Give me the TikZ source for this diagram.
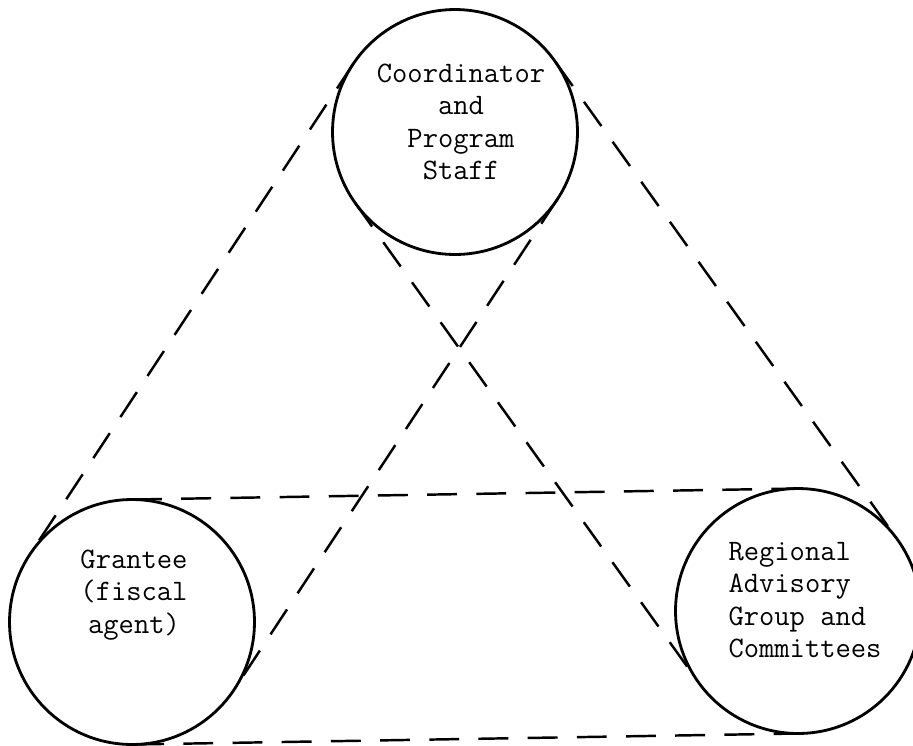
\documentclass[tikz,border=0pt]{standalone}
\usepackage{fontspec}
\usetikzlibrary{positioning,calc}
\newcommand{\typed}{\ttfamily\fontsize{16.9}{18.5}\selectfont}
\tikzset{
	party/.style={circle, draw, line width=1.6pt, minimum size=4.9cm, inner sep=0pt, outer sep=0pt},
	caption/.style={font=\typed, inner sep=0pt},
	tie/.style={line width=1.4pt, dash pattern=on 17pt off 11pt}
}

\begin{document}
\begin{tikzpicture}[x=0.02cm, y=-0.02cm]
	\useasboundingbox (0,0) rectangle (913,745);
	
	\node[party] (coord) at (455,132) {};
	\node[party] (grant) at (132,622) {};
	\node[party] (rag) at (798,611) {};
	
	\node[caption, align=center] (coordtext) at ($(coord)+(6,-10)$) {Coordinator\\and\\Program\\Staff};
	\node[caption, align=center] (granttext) at ($(grant)+(2,-27)$) {Grantee\\(fiscal\\agent)};
	\node[caption, align=left] (ragtext) at ($(rag)+(7,-11)$) {Regional\\Advisory\\Group and\\Committees};
	
	\draw[tie] (coord.146.6) -- (grant.146.6);
	\draw[tie] (coord.-33.4) -- (grant.-33.4);
	\draw[tie] (coord.35.6) -- (rag.35.6);
	\draw[tie] (coord.215.6) -- (rag.215.6);
	\draw[tie] (grant.90.95) -- (rag.90.95);
	\draw[tie] (grant.-89.05) -- (rag.-89.05);
\end{tikzpicture}
\end{document}
